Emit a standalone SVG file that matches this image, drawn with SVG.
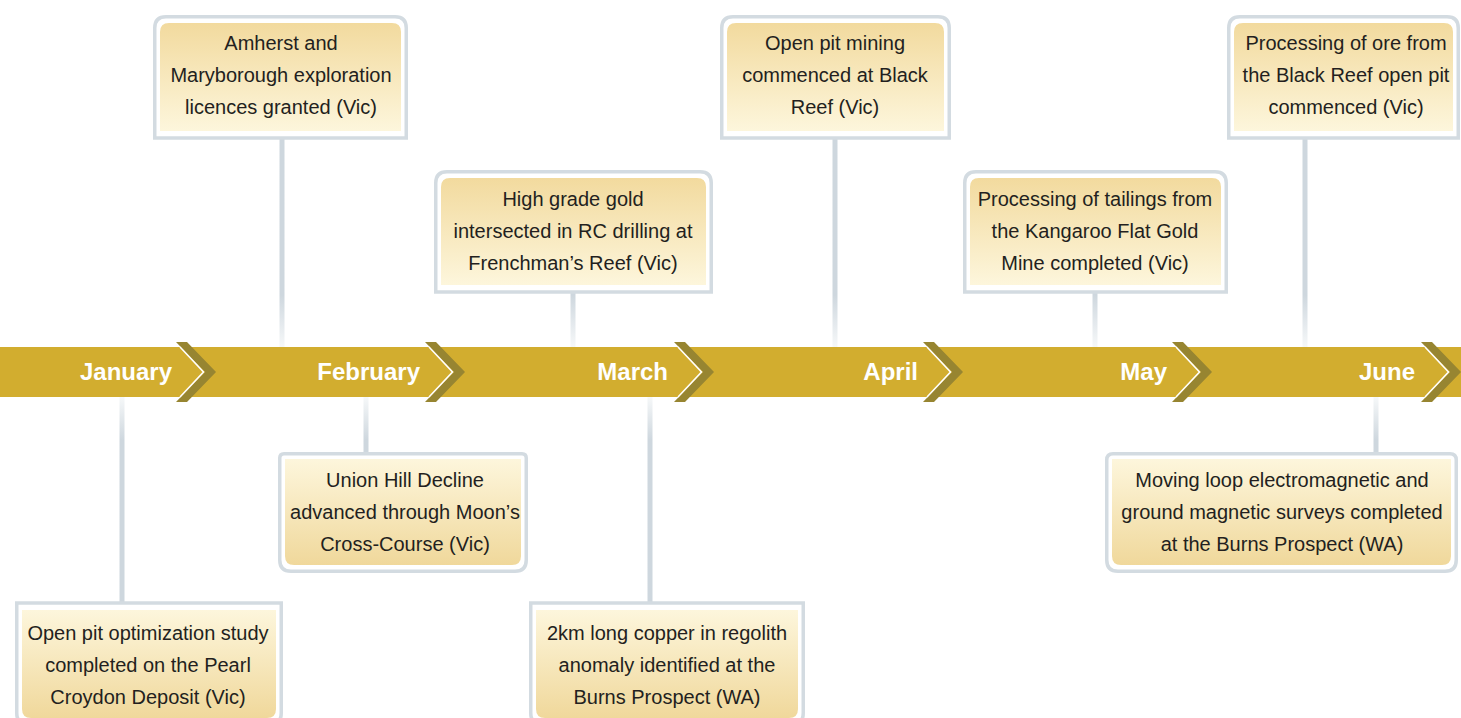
<svg xmlns="http://www.w3.org/2000/svg" width="1461" height="718" viewBox="0 0 1461 718">
<defs>
<style>
.box{fill:#ffffff;stroke:#d3dbe1;stroke-width:3.5}
.ft{fill:url(#gTop)}
.fb{fill:url(#gBot)}
.t{font-family:"Liberation Sans",Arial,sans-serif;font-size:20px;fill:#231f20;text-anchor:middle}
.m{font-family:"Liberation Sans",Arial,sans-serif;font-size:24px;font-weight:bold;fill:#ffffff;text-anchor:end}
.ct{fill:url(#cTop)}
.cb{fill:url(#cBot)}
</style>
<linearGradient id="gTop" x1="0" y1="0" x2="0" y2="1">
<stop offset="0" stop-color="#f2da9e"/>
<stop offset="1" stop-color="#fdf6dc"/>
</linearGradient>
<linearGradient id="gBot" x1="0" y1="0" x2="0" y2="1">
<stop offset="0" stop-color="#fdf6dc"/>
<stop offset="1" stop-color="#f0d89b"/>
</linearGradient>
<linearGradient id="cTop" gradientUnits="userSpaceOnUse" x1="0" y1="295" x2="0" y2="347">
<stop offset="0" stop-color="#ced7de"/>
<stop offset="1" stop-color="#f6f8f9"/>
</linearGradient>
<linearGradient id="cBot" gradientUnits="userSpaceOnUse" x1="0" y1="397" x2="0" y2="440">
<stop offset="0" stop-color="#f6f8f9"/>
<stop offset="1" stop-color="#ced7de"/>
</linearGradient>
<g id="chev">
<polygon points="0,-30 11,-30 40,0 11,30 0,30 29,0" fill="#978531"/>
<polyline points="4,-25 27.5,0 4,25" fill="none" stroke="#ffffff" stroke-width="1.6"/>
</g>
</defs>

<g id="connectors">
<rect class="ct" x="279.5" y="138" width="5" height="209"/>
<rect class="ct" x="570.5" y="292" width="5" height="55"/>
<rect class="ct" x="832.5" y="138" width="5" height="209"/>
<rect class="ct" x="1092.5" y="292" width="5" height="55"/>
<rect class="ct" x="1302.5" y="138" width="5" height="209"/>
<rect class="cb" x="119.5" y="397" width="5" height="206"/>
<rect class="cb" x="363.5" y="397" width="5" height="55"/>
<rect class="cb" x="647.5" y="397" width="5" height="206"/>
<rect class="cb" x="1373.5" y="397" width="5" height="55"/>
</g>

<g id="timeline">
<rect x="0" y="347" width="1461" height="50" fill="#d2ad2f"/>
<use href="#chev" transform="translate(176,372)"/>
<use href="#chev" transform="translate(425,372)"/>
<use href="#chev" transform="translate(674,372)"/>
<use href="#chev" transform="translate(923,372)"/>
<use href="#chev" transform="translate(1172,372)"/>
<use href="#chev" transform="translate(1421,372)"/>
<text class="m" x="172" y="380">January</text>
<text class="m" x="420" y="380">February</text>
<text class="m" x="668" y="380">March</text>
<text class="m" x="918" y="380">April</text>
<text class="m" x="1167" y="380">May</text>
<text class="m" x="1415" y="380">June</text>
</g>

<g id="n-amherst">
<path class="box" d="M154.75,138 V28 Q154.75,16.75 166,16.75 H395 Q406.25,16.75 406.25,28 V138 Z"/>
<path class="ft" d="M160,131 V32 Q160,23 169,23 H392 Q401,23 401,32 V131 Z"/>
<text class="t" x="281" y="50">Amherst and</text>
<text class="t" x="281" y="82">Maryborough exploration</text>
<text class="t" x="281" y="114">licences granted (Vic)</text>
</g>

<g id="n-frenchman">
<path class="box" d="M435.75,292 V183 Q435.75,171.75 447,171.75 H700 Q711.25,171.75 711.25,183 V292 Z"/>
<path class="ft" d="M441,285 V187 Q441,178 450,178 H697 Q706,178 706,187 V285 Z"/>
<text class="t" x="573" y="206">High grade gold</text>
<text class="t" x="573" y="238">intersected in RC drilling at</text>
<text class="t" x="573" y="270">Frenchman’s Reef (Vic)</text>
</g>

<g id="n-blackreef">
<path class="box" d="M721.75,138 V28 Q721.75,16.75 733,16.75 H938 Q949.25,16.75 949.25,28 V138 Z"/>
<path class="ft" d="M727,131 V32 Q727,23 736,23 H935 Q944,23 944,32 V131 Z"/>
<text class="t" x="835" y="50">Open pit mining</text>
<text class="t" x="835" y="82">commenced at Black</text>
<text class="t" x="835" y="114">Reef (Vic)</text>
</g>

<g id="n-kangaroo">
<path class="box" d="M964.75,292 V183 Q964.75,171.75 976,171.75 H1215 Q1226.25,171.75 1226.25,183 V292 Z"/>
<path class="ft" d="M970,285 V187 Q970,178 979,178 H1212 Q1221,178 1221,187 V285 Z"/>
<text class="t" x="1095" y="206">Processing of tailings from</text>
<text class="t" x="1095" y="238">the Kangaroo Flat Gold</text>
<text class="t" x="1095" y="270">Mine completed (Vic)</text>
</g>

<g id="n-ore">
<path class="box" d="M1228.75,138 V28 Q1228.75,16.75 1240,16.75 H1447 Q1458.25,16.75 1458.25,28 V138 Z"/>
<path class="ft" d="M1234,131 V32 Q1234,23 1243,23 H1444 Q1453,23 1453,32 V131 Z"/>
<text class="t" x="1346" y="50">Processing of ore from</text>
<text class="t" x="1346" y="82">the Black Reef open pit</text>
<text class="t" x="1346" y="114">commenced (Vic)</text>
</g>

<g id="n-openpit">
<path class="box" d="M16.75,603 V713 Q16.75,724.25 28,724.25 H270 Q281.25,724.25 281.25,713 V603 Z"/>
<path class="fb" d="M22,610 V709 Q22,718 31,718 H267 Q276,718 276,709 V610 Z"/>
<text class="t" x="148" y="640">Open pit optimization study</text>
<text class="t" x="148" y="672">completed on the Pearl</text>
<text class="t" x="148" y="704">Croydon Deposit (Vic)</text>
</g>

<g id="n-unionhill">
<path class="box" d="M279.75,458 Q279.75,453.75 284,453.75 H522 Q526.25,453.75 526.25,458 V560 Q526.25,571.25 515,571.25 H291 Q279.75,571.25 279.75,560 Z"/>
<path class="fb" d="M285,459 H521 V556 Q521,565 512,565 H294 Q285,565 285,556 Z"/>
<text class="t" x="405" y="487">Union Hill Decline</text>
<text class="t" x="405" y="519">advanced through Moon’s</text>
<text class="t" x="405" y="551">Cross-Course (Vic)</text>
</g>

<g id="n-copper">
<path class="box" d="M530.75,603 V713 Q530.75,724.25 542,724.25 H792 Q803.25,724.25 803.25,713 V603 Z"/>
<path class="fb" d="M536,610 V709 Q536,718 545,718 H789 Q798,718 798,709 V610 Z"/>
<text class="t" x="667" y="640">2km long copper in regolith</text>
<text class="t" x="667" y="672">anomaly identified at the</text>
<text class="t" x="667" y="704">Burns Prospect (WA)</text>
</g>

<g id="n-movingloop">
<path class="box" d="M1106.75,460 Q1106.75,453.75 1113,453.75 H1450 Q1456.25,453.75 1456.25,460 V560 Q1456.25,571.25 1445,571.25 H1118 Q1106.75,571.25 1106.75,560 Z"/>
<path class="fb" d="M1112,459 H1451 V556 Q1451,565 1442,565 H1121 Q1112,565 1112,556 Z"/>
<text class="t" x="1282" y="487">Moving loop electromagnetic and</text>
<text class="t" x="1282" y="519">ground magnetic surveys completed</text>
<text class="t" x="1282" y="551">at the Burns Prospect (WA)</text>
</g>
</svg>
